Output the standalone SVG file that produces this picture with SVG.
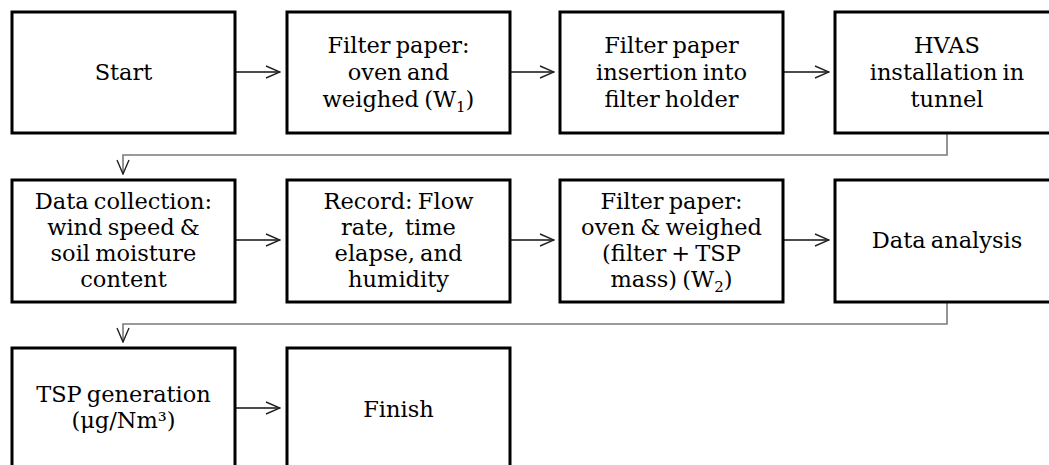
<svg xmlns="http://www.w3.org/2000/svg" width="1049" height="465" viewBox="0 0 1049 465">
  <style>
    .box { fill: #fff; stroke: #000; stroke-width: 3; }
    .lbl { font-family: "DejaVu Serif", "Liberation Serif", serif; font-size: 22.5px; fill: #000; text-anchor: middle; word-spacing: -2px; }
    .flow { fill: none; stroke: #111; stroke-width: 1.3; }
    .elbow { fill: none; stroke: #7a7a7a; stroke-width: 1.6; }
    .sub { font-size: 15px; }
  </style>
  <defs>
    <marker id="open" viewBox="0 0 16 14" refX="15" refY="7" markerWidth="16" markerHeight="14" markerUnits="userSpaceOnUse" orient="auto">
      <path d="M1,1 L15,7 L1,13" fill="none" stroke="#222" stroke-width="1.4"/>
    </marker>
  </defs>
  <rect width="1049" height="465" fill="#fff"/>

  <!-- connectors -->
  <g id="connectors">
    <line class="flow" x1="235" y1="72" x2="280" y2="72" marker-end="url(#open)"/>
    <line class="flow" x1="510" y1="72" x2="554" y2="72" marker-end="url(#open)"/>
    <line class="flow" x1="783" y1="72" x2="829" y2="72" marker-end="url(#open)"/>
    <polyline class="elbow" points="947,133 947,155 123,155 123,174" marker-end="url(#open)"/>
    <line class="flow" x1="235" y1="240" x2="280" y2="240" marker-end="url(#open)"/>
    <line class="flow" x1="510" y1="240" x2="554" y2="240" marker-end="url(#open)"/>
    <line class="flow" x1="783" y1="240" x2="829" y2="240" marker-end="url(#open)"/>
    <polyline class="elbow" points="947,302 947,324 123,324 123,342" marker-end="url(#open)"/>
    <line class="flow" x1="235" y1="408" x2="280" y2="408" marker-end="url(#open)"/>
  </g>

  <!-- row 1 -->
  <g id="start">
    <rect class="box" x="12" y="12" width="223" height="121"/>
    <text class="lbl" x="123.5" y="80">Start</text>
  </g>
  <g id="oven-weigh-1">
    <rect class="box" x="287" y="12" width="223" height="121"/>
    <text class="lbl" x="398.5" y="53">Filter paper:</text>
    <text class="lbl" x="398.5" y="80">oven and</text>
    <text class="lbl" x="398.5" y="107">weighed (W<tspan class="sub" dy="5">1</tspan><tspan dy="-5">)</tspan></text>
  </g>
  <g id="insert-filter">
    <rect class="box" x="560" y="12" width="223" height="121"/>
    <text class="lbl" x="671.5" y="53">Filter paper</text>
    <text class="lbl" x="671.5" y="80">insertion into</text>
    <text class="lbl" x="671.5" y="107">filter holder</text>
  </g>
  <g id="hvas-install">
    <rect class="box" x="835" y="12" width="224" height="121"/>
    <text class="lbl" x="947" y="53">HVAS</text>
    <text class="lbl" x="947" y="80">installation in</text>
    <text class="lbl" x="947" y="107">tunnel</text>
  </g>

  <!-- row 2 -->
  <g id="data-collection">
    <rect class="box" x="12" y="180" width="223" height="122"/>
    <text class="lbl" x="123.5" y="209">Data collection:</text>
    <text class="lbl" x="123.5" y="235">wind speed &amp;</text>
    <text class="lbl" x="123.5" y="261">soil moisture</text>
    <text class="lbl" x="123.5" y="287">content</text>
  </g>
  <g id="record">
    <rect class="box" x="287" y="180" width="223" height="122"/>
    <text class="lbl" x="398.5" y="209">Record: Flow</text>
    <text class="lbl" x="398.5" y="235">rate,&#160; time</text>
    <text class="lbl" x="398.5" y="261">elapse, and</text>
    <text class="lbl" x="398.5" y="287">humidity</text>
  </g>
  <g id="oven-weigh-2">
    <rect class="box" x="560" y="180" width="223" height="122"/>
    <text class="lbl" x="671.5" y="209">Filter paper:</text>
    <text class="lbl" x="671.5" y="235">oven &amp; weighed</text>
    <text class="lbl" x="671.5" y="261">(filter + TSP</text>
    <text class="lbl" x="671.5" y="287">mass) (W<tspan class="sub" dy="5">2</tspan><tspan dy="-5">)</tspan></text>
  </g>
  <g id="data-analysis">
    <rect class="box" x="835" y="180" width="224" height="122"/>
    <text class="lbl" x="947" y="248">Data analysis</text>
  </g>

  <!-- row 3 -->
  <g id="tsp-generation">
    <rect class="box" x="12" y="348" width="223" height="122"/>
    <text class="lbl" x="123.5" y="402">TSP generation</text>
    <text class="lbl" x="123.5" y="428">(μg/Nm³)</text>
  </g>
  <g id="finish">
    <rect class="box" x="287" y="348" width="223" height="122"/>
    <text class="lbl" x="398.5" y="417">Finish</text>
  </g>
</svg>
